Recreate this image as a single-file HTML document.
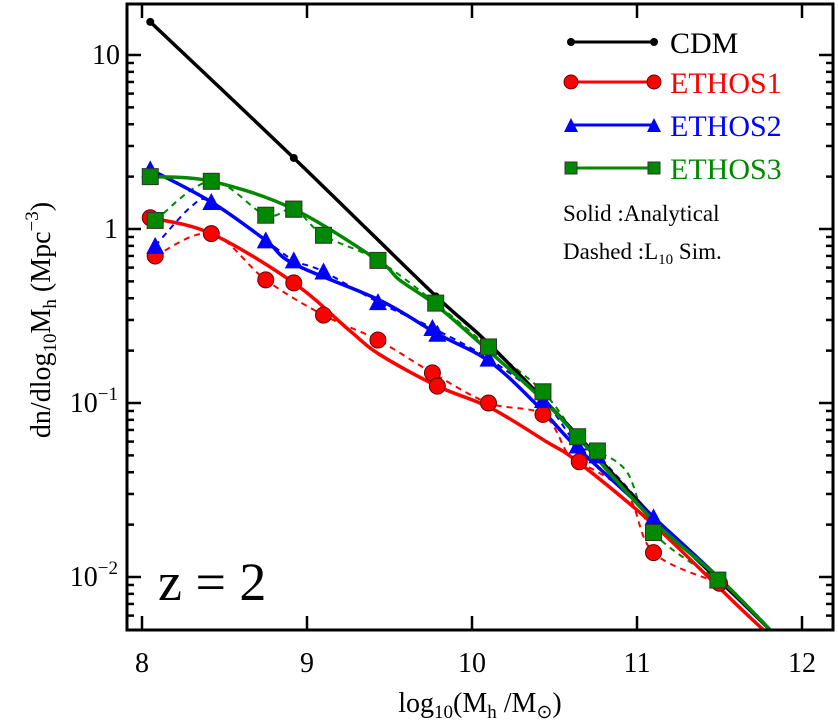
<!DOCTYPE html>
<html><head><meta charset="utf-8"><style>
body{margin:0;background:#fff}
svg text{font-family:"Liberation Serif",serif}
</style></head><body>
<svg id="chart" width="838" height="722" xmlns="http://www.w3.org/2000/svg">
<g id="marks"></g>
<rect x="127" y="4" width="706" height="626" fill="none" stroke="#000" stroke-width="3"/>
<g id="ticks"></g>
<text x="480" y="712" font-size="28" text-anchor="middle">log<tspan font-size="19" dy="6">10</tspan><tspan dy="-6">(M</tspan><tspan font-size="19" dy="6">h</tspan><tspan dy="-6"> /M</tspan><tspan font-size="19" dy="6">⊙</tspan><tspan dy="-6">)</tspan></text>
<text transform="translate(50,320) rotate(-90)" font-size="28" text-anchor="middle">dn/dlog<tspan font-size="19" dy="6">10</tspan><tspan dy="-6">M</tspan><tspan font-size="19" dy="6">h</tspan><tspan dy="-6">  (Mpc</tspan><tspan font-size="19" dy="-12">−3</tspan><tspan dy="12">)</tspan></text>
<text x="158" y="600" font-size="54">z = 2</text>
<g>
<line x1="571" y1="42" x2="654" y2="42" stroke="#000" stroke-width="3"/><circle cx="571" cy="42" r="4"/><circle cx="654" cy="42" r="4"/>
<text x="670" y="53" font-size="30">CDM</text>
<line x1="571" y1="82" x2="654" y2="82" stroke="#f00" stroke-width="3"/><circle cx="571" cy="82" r="7" fill="#f00" stroke="#600"/><circle cx="654" cy="82" r="7" fill="#f00" stroke="#600"/>
<text x="670" y="93" font-size="30" fill="#f00">ETHOS1</text>
<line x1="571" y1="125" x2="654" y2="125" stroke="#00f" stroke-width="3"/><path d="M564,132 L578,132 L571,118Z M647,132 L661,132 L654,118Z" fill="#00f"/>
<text x="670" y="136" font-size="30" fill="#00f">ETHOS2</text>
<line x1="571" y1="168" x2="654" y2="168" stroke="#080" stroke-width="3"/><rect x="565" y="162" width="12" height="12" fill="#080" stroke="#333"/><rect x="648" y="162" width="12" height="12" fill="#080" stroke="#333"/>
<text x="670" y="179" font-size="30" fill="#080">ETHOS3</text>
<text x="563" y="221" font-size="23">Solid :Analytical</text>
<text x="563" y="259" font-size="23">Dashed :L<tspan font-size="15" dy="5">10</tspan><tspan dy="-5"> Sim.</tspan></text>
</g>
</svg>
<script>
const cdmX=[8.05,8.92,9.76,10.1,10.61,11.1,11.62,11.85];
const cdmY=[15.5,2.56,0.43,0.22,0.07,0.022,0.0074,0.0045];
const cdmMarkX=[8.05,8.92,9.78];
const cdmMarkY=[15.5,2.56,0.41];
const e1SolidX=[8.05,8.42,8.92,9.26,9.44,9.79,10.11,10.45,10.64,11.1,11.62,11.85];
const e1SolidY=[1.16,0.94,0.49,0.26,0.19,0.125,0.094,0.06,0.046,0.02,0.0067,0.0042];
const e1DashX=[8.08,8.42,8.75,9.1,9.43,9.76,10.1,10.43,10.58,10.65,10.94,11.1,11.5];
const e1DashY=[0.7,0.94,0.51,0.32,0.23,0.149,0.1,0.086,0.051,0.046,0.03,0.0138,0.0092];
const e2SolidX=[8.05,8.42,8.75,8.92,9.44,9.79,10.11,10.41,10.64,11.1,11.5,11.85];
const e2SolidY=[2.2,1.43,0.86,0.63,0.39,0.25,0.172,0.094,0.055,0.022,0.0098,0.0045];
const e2DashX=[8.08,8.3,8.42,8.75,8.92,9.1,9.43,9.76,10.1,10.43,10.64,10.76,11.1];
const e2DashY=[0.8,1.35,1.43,0.86,0.66,0.57,0.38,0.27,0.18,0.104,0.057,0.05,0.022];
const e3SolidX=[8.05,8.42,8.92,9.43,9.56,9.79,10.11,10.43,10.64,11.1,11.5,11.85];
const e3SolidY=[2.0,1.88,1.3,0.66,0.51,0.36,0.196,0.104,0.064,0.021,0.0098,0.0045];
const e3DashX=[8.08,8.42,8.75,8.92,9.1,9.43,9.78,10.1,10.43,10.64,10.76,10.94,11.1,11.49];
const e3DashY=[1.12,1.88,1.2,1.3,0.92,0.66,0.375,0.21,0.116,0.064,0.053,0.04,0.018,0.0096];
const xTicks=[8,9,10,11,12];
const yTickExp=[-2,-1,0,1];
const X=v=>142+(v-8)*165;
const Y=v=>229-Math.log10(v)*174;
const NS="http://www.w3.org/2000/svg";
const marks=document.getElementById('marks');
const ticks=document.getElementById('ticks');
function mk(tag,attrs,parent){const e=document.createElementNS(NS,tag);for(const k in attrs)e.setAttribute(k,attrs[k]);parent.appendChild(e);return e;}
function smooth(xs,ys){const p=xs.map((x,i)=>[X(x),Y(ys[i])]);let d='M'+p[0][0]+','+p[0][1];
for(let i=0;i<p.length-1;i++){const p0=p[Math.max(0,i-1)],p1=p[i],p2=p[i+1],p3=p[Math.min(p.length-1,i+2)];
const c1=[p1[0]+(p2[0]-p0[0])/6,p1[1]+(p2[1]-p0[1])/6],c2=[p2[0]-(p3[0]-p1[0])/6,p2[1]-(p3[1]-p1[1])/6];
d+=` C${c1[0]},${c1[1]} ${c2[0]},${c2[1]} ${p2[0]},${p2[1]}`;}return d;}
const clip=mk('clipPath',{id:'pc'},mk('defs',{},marks));mk('rect',{x:127,y:4,width:706,height:626},clip);
const g=mk('g',{'clip-path':'url(#pc)'},marks);
function line(xs,ys,color,dash,name){const p=mk('path',{d:smooth(xs,ys),fill:'none',stroke:color,'stroke-width':dash?2:3.5,'stroke-dasharray':dash?'6,5':'none'},g);

}
function marker(type,x,y,color,name){let e;
if(type==='circle')e=mk('circle',{cx:X(x),cy:Y(y),r:8,fill:color,stroke:'#600'},g);
else if(type==='tri')e=mk('path',{d:`M${X(x)-9},${Y(y)+8} L${X(x)+9},${Y(y)+8} L${X(x)},${Y(y)-9}Z`,fill:color},g);
else if(type==='sq')e=mk('rect',{x:X(x)-8,y:Y(y)-8,width:16,height:16,fill:color,stroke:'#333'},g);
else e=mk('circle',{cx:X(x),cy:Y(y),r:4,fill:color},g);

}
line(e1DashX,e1DashY,'#f00',true,'ethos1-sim-line');
line(e2DashX,e2DashY,'#00f',true,'ethos2-sim-line');
line(e3DashX,e3DashY,'#080',true,'ethos3-sim-line');
line(cdmX,cdmY,'#000',false,'cdm-line');
line(e1SolidX,e1SolidY,'#f00',false,'ethos1-analytical-line');
line(e2SolidX,e2SolidY,'#00f',false,'ethos2-analytical-line');
line(e3SolidX,e3SolidY,'#080',false,'ethos3-analytical-line');
cdmMarkX.forEach((x,i)=>marker('dot',x,cdmMarkY[i],'#000','cdm-point'));
e1DashX.forEach((x,i)=>{if(i!==8&&i!==10)marker('circle',x,e1DashY[i],'#f00','ethos1-sim-point');});
[0,2,5].forEach(i=>marker('circle',e1SolidX[i],e1SolidY[i],'#f00','ethos1-analytical-point'));
e2DashX.forEach((x,i)=>{if(i!==1)marker('tri',x,e2DashY[i],'#00f','ethos2-sim-point');});
[0,5].forEach(i=>marker('tri',e2SolidX[i],e2SolidY[i],'#00f','ethos2-analytical-point'));
e3DashX.forEach((x,i)=>{if(i!==11)marker('sq',x,e3DashY[i],'#080','ethos3-sim-point');});
[0,2].forEach(i=>marker('sq',e3SolidX[i],e3SolidY[i],'#080','ethos3-analytical-point'));
xTicks.forEach(t=>{const x=X(t);
mk('line',{x1:x,y1:630,x2:x,y2:616,stroke:'#000','stroke-width':2.5},ticks);
mk('line',{x1:x,y1:4,x2:x,y2:18,stroke:'#000','stroke-width':2.5},ticks);
const tx=mk('text',{x:x,y:672,'font-size':28,'text-anchor':'middle'},ticks);tx.textContent=t;

});
for(let e=-3;e<=1;e++){for(let m=1;m<10;m++){const v=m*Math.pow(10,e);const y=Y(v);if(y<5||y>629)continue;const L=m===1?14:7;
mk('line',{x1:127,y1:y,x2:127+L,y2:y,stroke:'#000','stroke-width':2.5},ticks);
mk('line',{x1:833,y1:y,x2:833-L,y2:y,stroke:'#000','stroke-width':2.5},ticks);}}
yTickExp.forEach(e=>{const y=Y(Math.pow(10,e));const t=mk('text',{x:e===0?118:e===1?120:118,y:y+9,'font-size':28,'text-anchor':'end'},ticks);


if(e===0)t.textContent='1';else if(e===1)t.textContent='10';else{t.textContent='10';const s=mk('tspan',{'font-size':19,dy:-12},t);s.textContent='−'+(-e);}});
</script>
</body></html>
